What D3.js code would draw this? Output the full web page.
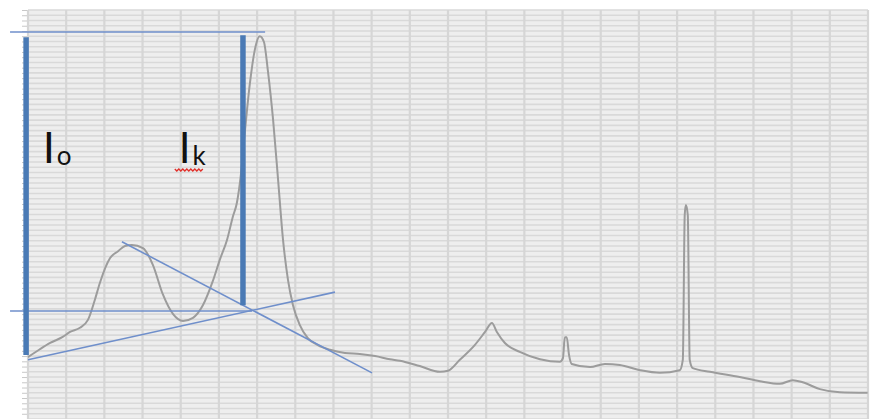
<!DOCTYPE html>
<html>
  <head>
    <script src="https://d3js.org/d3.v7.min.js"></script>
    <style>
      body { margin: 0; background: #fff; }
    </style>
  </head>
  <body>
    <script>
      var width = 870;
      var height = 419;
      var margin = {top: 10, left: 28, right: 2, bottom: 0};

      // spectrum (x in grid columns, y in grid rows)
      var specX = [0, 0.31, 0.58, 0.92, 1.10, 1.36, 1.57, 1.75, 1.88, 2.15, 2.36, 2.54, 2.72, 3.01, 3.27, 3.53, 3.80, 4.06, 4.32, 4.58,
        4.84, 5.03, 5.21, 5.37, 5.47, 5.58, 5.68, 5.81, 5.94, 6.07, 6.18, 6.28, 6.42, 6.55, 6.68, 6.81, 6.94, 7.12, 7.33, 7.59,
        7.91, 8.30, 8.69, 9.09, 9.48, 9.74, 10.26, 10.79, 11.00, 11.31, 11.70, 11.97, 12.15, 12.28, 12.49, 12.88, 13.41, 13.93, 14.01, 14.06,
        14.11, 14.17, 14.24, 14.72, 15.11, 15.50, 16.03, 16.55, 17.07, 17.15, 17.20, 17.23, 17.28, 17.33, 17.41, 17.86, 18.64, 19.17, 19.69, 20.03,
        20.29, 20.74, 21.26, 21.99];
      var specY = [11.8, 13.3, 14.5, 15.7, 16.6, 17.4, 18.9, 22.7, 25.9, 30.7, 32.0, 33.0, 33.2, 32.6, 29.4, 23.8, 20.0, 18.7, 19.3, 21.7,
        26.3, 30.5, 34.1, 38.7, 41.2, 46.9, 54.8, 63.9, 70.4, 73.0, 71.9, 66.6, 57.0, 45.6, 34.1, 26.5, 21.7, 17.9, 15.4, 14.1,
        13.2, 12.6, 12.4, 12.0, 11.4, 11.1, 10.1, 9.0, 9.2, 11.3, 14.1, 16.6, 18.3, 16.6, 14.5, 12.8, 11.4, 10.9, 11.6, 15.6,
        15.6, 12.2, 10.5, 9.9, 10.5, 10.3, 9.3, 8.8, 9.3, 11.3, 38.9, 40.8, 38.9, 11.3, 9.7, 9.0, 8.0, 7.2, 6.7, 7.4,
        7.0, 5.7, 5.1, 5.0];

      // annotation segments: [x1, y1, x2, y2]
      var thickLines = [[-0.05, 72.8, -0.05, 12.2], [5.63, 73.2, 5.63, 21.7]];
      var thinLines = [[-0.47, 73.8, 6.21, 73.8], [-0.47, 20.6, 5.87, 20.6], [0, 11.3, 8.04, 24.2], [2.46, 33.8, 9.01, 8.8]];
      var labels = [{x: 0.39, y: 48.8, main: "I", sub: "o"}, {x: 3.95, y: 48.8, main: "I", sub: "k"}];

      var xTicks = d3.range(0, 23);
      var yTicks = d3.range(0, 79);

      var svg = d3.select("body")
        .append("svg")
        .attr("width", width)
        .attr("height", height);

      var xScale = d3.scaleLinear()
        .domain([0, 22])
        .range([margin.left, width - margin.right]);

      var yScale = d3.scaleLinear()
        .domain([0, 78])
        .range([height - margin.bottom, margin.top]);

      svg.append("rect")
        .attr("x", xScale(0))
        .attr("y", yScale(78))
        .attr("width", xScale(22) - xScale(0))
        .attr("height", yScale(0) - yScale(78))
        .attr("fill", "#eeeeee");

      svg.append("g")
        .selectAll("line")
        .data(yTicks)
        .enter()
        .append("line")
          .attr("x1", xScale(0))
          .attr("x2", xScale(22))
          .attr("y1", function(d) { return yScale(d); })
          .attr("y2", function(d) { return yScale(d); })
          .attr("stroke", "#d9d9d9")
          .attr("stroke-width", 1.6);

      svg.append("g")
        .selectAll("line")
        .data(xTicks)
        .enter()
        .append("line")
          .attr("x1", function(d) { return xScale(d); })
          .attr("x2", function(d) { return xScale(d); })
          .attr("y1", yScale(78))
          .attr("y2", yScale(0))
          .attr("stroke", "#d6d6d6")
          .attr("stroke-width", 2.2);

      var yAxis = svg.append("g")
        .attr("transform", `translate(${xScale(0) - 1},0)`)
        .call(d3.axisLeft(yScale).tickValues(yTicks).tickSize(5).tickFormat(""));
      yAxis.select(".domain").attr("stroke", "#d6d6d6");
      yAxis.selectAll(".tick line").attr("stroke", "#c8c8c8");

      var line = d3.line()
        .x(function(d, i) { return xScale(specX[i]); })
        .y(function(d) { return yScale(d); })
        .curve(d3.curveMonotoneX);

      svg.append("path")
        .datum(specY)
        .attr("d", line)
        .attr("fill", "none")
        .attr("stroke", "#9c9c9c")
        .attr("stroke-width", 2);

      svg.append("g")
        .selectAll("line")
        .data(thinLines)
        .enter()
        .append("line")
          .attr("x1", function(d) { return xScale(d[0]); })
          .attr("y1", function(d) { return yScale(d[1]); })
          .attr("x2", function(d) { return xScale(d[2]); })
          .attr("y2", function(d) { return yScale(d[3]); })
          .attr("stroke", "#6f8fcb")
          .attr("stroke-width", 1.6);

      svg.append("g")
        .selectAll("line")
        .data(thickLines)
        .enter()
        .append("line")
          .attr("x1", function(d) { return xScale(d[0]); })
          .attr("y1", function(d) { return yScale(d[1]); })
          .attr("x2", function(d) { return xScale(d[2]); })
          .attr("y2", function(d) { return yScale(d[3]); })
          .attr("stroke", "#4a7ab5")
          .attr("stroke-width", 5.5);

      var lab = svg.append("g")
        .selectAll("text")
        .data(labels)
        .enter()
        .append("text")
          .attr("x", function(d) { return xScale(d.x); })
          .attr("y", function(d) { return yScale(d.y); })
          .attr("font-family", "Lato, 'Open Sans', sans-serif")
          .attr("fill", "#111");
      lab.append("tspan")
        .attr("font-size", 42)
        .text(function(d) { return d.main; });
      lab.append("tspan")
        .attr("font-size", 26)
        .attr("dx", 2)
        .attr("dy", 2)
        .text(function(d) { return d.sub; });

      // red spell-check squiggle under "Ik"
      var sq = labels[1];
      var sx = xScale(sq.x) - 4, sy = yScale(sq.y) + 6;
      var wave = d3.range(0, 15).map(function(i) { return [sx + i * 2, sy + (i % 2 ? 2 : 0)]; });
      svg.append("path")
        .attr("d", d3.line()(wave))
        .attr("fill", "none")
        .attr("stroke", "#e0302a")
        .attr("stroke-width", 1.4);
    </script>
  </body>
</html>
